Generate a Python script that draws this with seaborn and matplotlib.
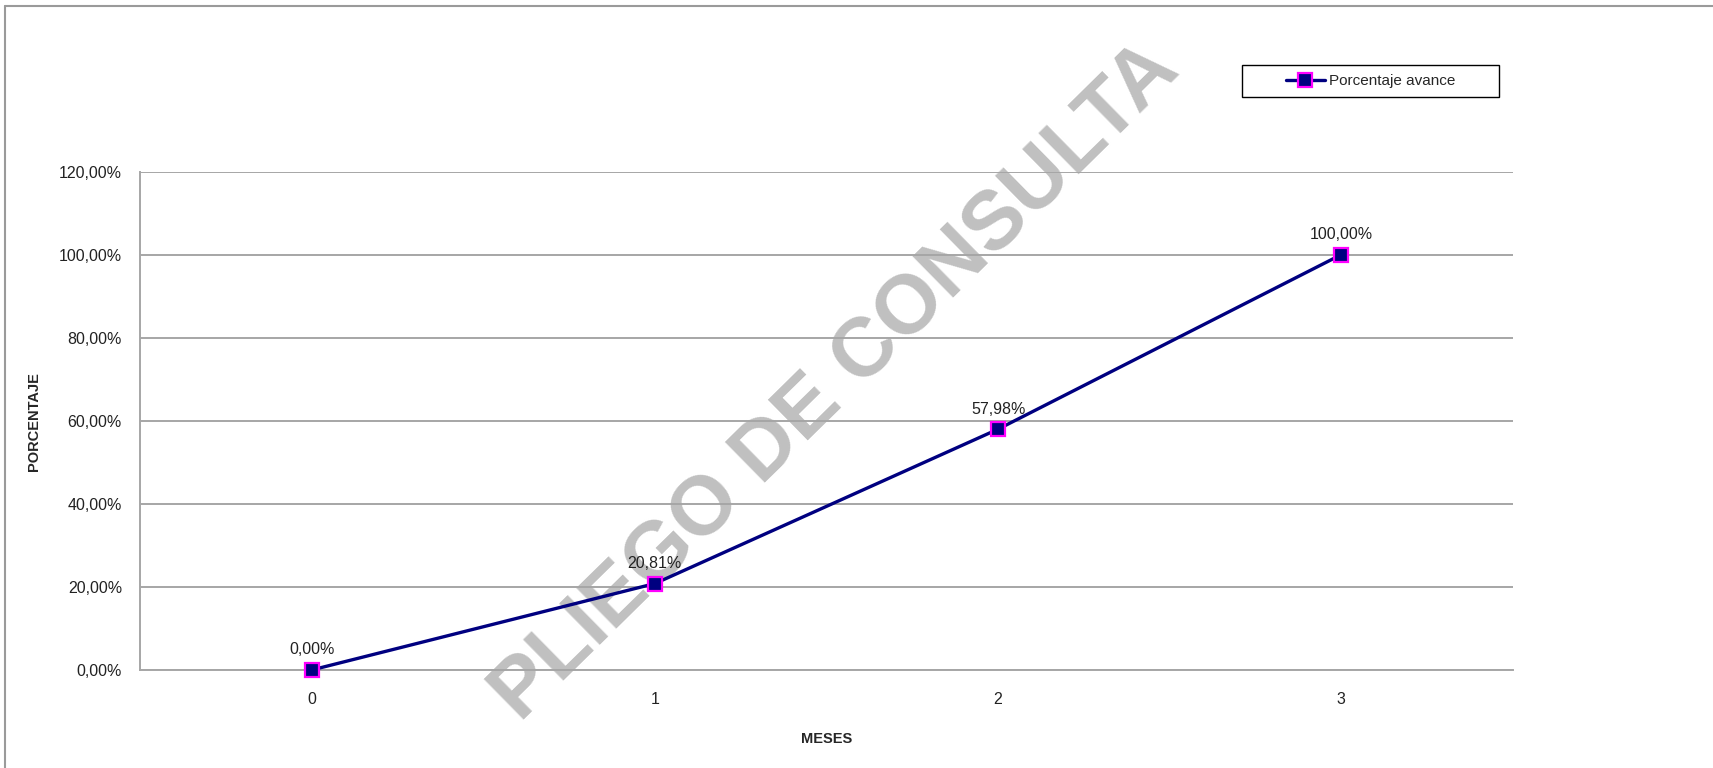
import pandas as pd
import matplotlib
matplotlib.use('Agg')
import matplotlib.pyplot as plt
from matplotlib.ticker import FuncFormatter, FixedLocator
from matplotlib.lines import Line2D
from matplotlib.patches import Rectangle
import seaborn as sns

# -------------------------------
# Datos
# -------------------------------
meses = [0, 1, 2, 3]
porcentaje = [0.00, 20.81, 57.98, 100.00]
y_ticks = [0, 20, 40, 60, 80, 100, 120]
serie = 'Porcentaje avance'

df = pd.DataFrame({'Meses': meses, 'Porcentaje': porcentaje})

sns.set_theme(style='white')
plt.rcParams['font.family'] = ['Liberation Sans', 'DejaVu Sans']

W, H = 1713, 768
fig = plt.figure(figsize=(W / 100, H / 100), dpi=100)
ax = fig.add_axes([140 / W, 1 - 670 / H, (1513 - 140) / W, (670 - 171.5) / H])
ax.set_facecolor('none')

# linea principal
sns.lineplot(data=df, x='Meses', y='Porcentaje', ax=ax, color='#000080',
             linewidth=2.4, marker='s', markersize=9.5,
             markerfacecolor='#000080', markeredgecolor='#ff00ff',
             markeredgewidth=1.6, label=serie, zorder=5, clip_on=False)

# etiquetas de datos
fmt = lambda v: f'{v:.2f}%'.replace('.', ',')
for x, y in zip(meses, porcentaje):
    ax.annotate(fmt(y), (x, y), xytext=(0, 9), textcoords='offset points',
                ha='center', va='bottom', fontsize=11.5, color='#222222', zorder=6)

# ejes
ax.set_xlim(-0.5, 3.5)
ax.set_ylim(0, 120)
ax.yaxis.set_major_locator(FixedLocator(y_ticks))
ax.yaxis.set_major_formatter(FuncFormatter(lambda v, p: fmt(v)))
ax.set_xticks(meses)
ax.set_xticklabels([str(m) for m in meses])
ax.xaxis.set_minor_locator(FixedLocator([m - 0.5 for m in meses] + [meses[-1] + 0.5]))
ax.tick_params(axis='x', which='major', length=0, pad=16, labelsize=11.5, labelcolor='#222222')
ax.tick_params(axis='x', which='minor', length=7, width=1.2, color='#999999', direction='out')
ax.tick_params(axis='y', which='major', length=7, width=1.2, color='#999999',
               direction='out', labelsize=11.5, labelcolor='#222222', pad=6)

ax.grid(axis='y', color='#a6a6a6', linewidth=1.4)
ax.grid(axis='x', visible=False)
ax.set_axisbelow(True)
for s in ['top', 'right']:
    ax.spines[s].set_visible(False)
for s in ['left', 'bottom']:
    ax.spines[s].set_color('#a6a6a6')
    ax.spines[s].set_linewidth(1.4)

ax.set_xlabel('MESES', fontsize=10.5, fontweight='bold')
ax.set_ylabel('PORCENTAJE', fontsize=10.5, fontweight='bold')
ax.xaxis.set_label_coords((827 - 140) / (1513 - 140), -(732 - 670) / (670 - 171.5))
ax.yaxis.set_label_coords(-(140 - 41) / (1513 - 140), (670 - 422) / (670 - 171.5))

# leyenda (marco dibujado aparte, como en Excel)
x0, x1, y0, y1 = 1242, 1499, 65, 97
leg = ax.legend(loc='center', bbox_to_anchor=((x0 + x1) / 2 / W, 1 - (y0 + y1) / 2 / H),
                bbox_transform=fig.transFigure, fontsize=11, frameon=False,
                handlelength=2.6, handletextpad=0.25, borderpad=0, borderaxespad=0)
fig.add_artist(Rectangle((x0 / W, 1 - y1 / H), (x1 - x0) / W, (y1 - y0) / H,
                         transform=fig.transFigure, fill=False,
                         edgecolor='black', linewidth=1.0))

# marca de agua
ax.text(836 / W, 1 - 382 / H, 'PLIEGO DE CONSULTA', transform=fig.transFigure,
        fontsize=60, fontweight='bold', color='#c0c0c0', rotation=44.5,
        ha='center', va='center', rotation_mode='anchor', zorder=0.1, clip_on=False)

# marco exterior
fig.add_artist(Line2D([5 / W, 5 / W], [0, 1 - 6 / H], color='#9a9a9a', linewidth=1.5))
fig.add_artist(Line2D([5 / W, 1], [1 - 6 / H, 1 - 6 / H], color='#9a9a9a', linewidth=1.5))

plt.savefig('out.png', dpi=100)
plt.close()
